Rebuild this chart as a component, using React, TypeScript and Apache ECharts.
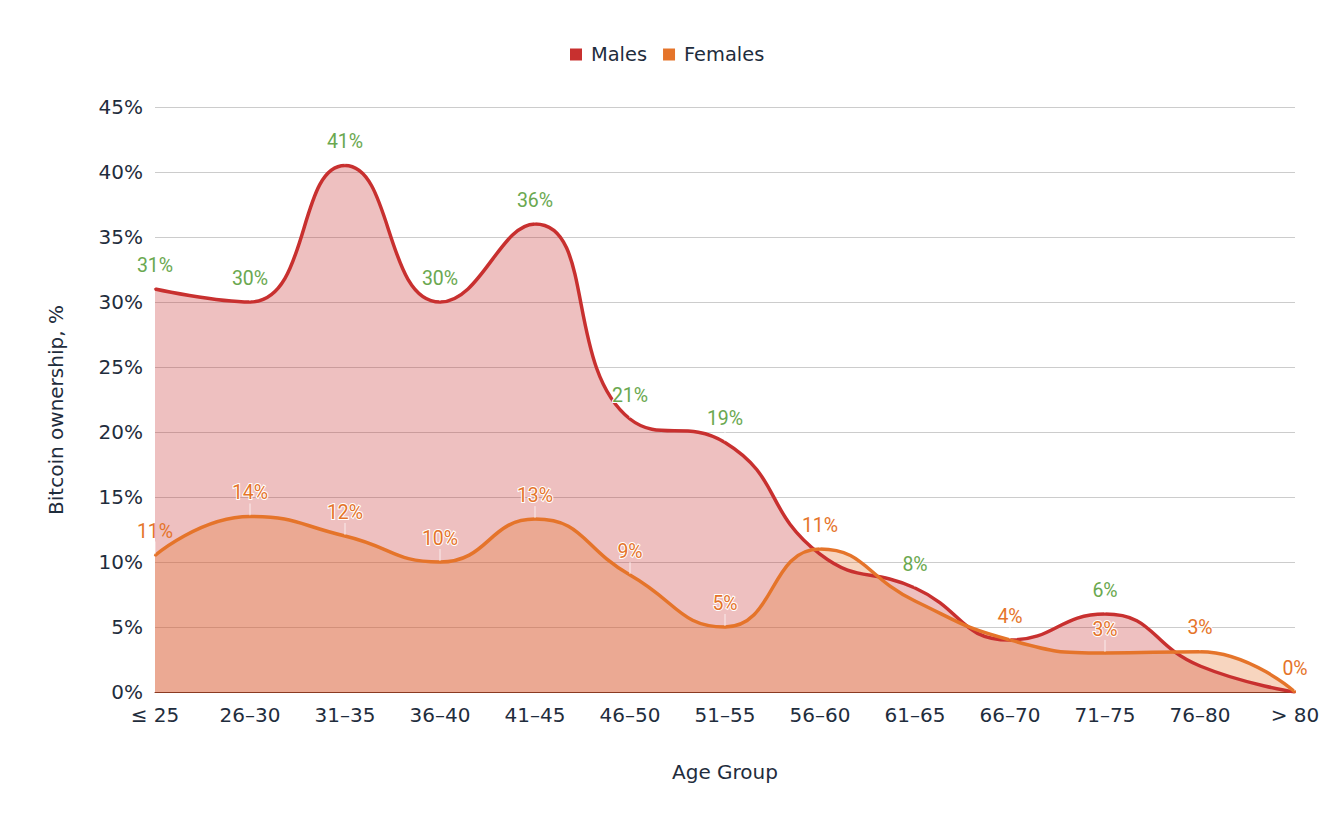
import React, { useEffect, useRef } from "react";
import * as echarts from "echarts";

const categories = ["≤ 25", "26–30", "31–35", "36–40", "41–45", "46–50", "51–55", "56–60", "61–65", "66–70", "71–75", "76–80", "> 80"];
const males = [31, 30, 40.5, 30, 36, 21, 19.2, 10.6, 8, 4, 6, 2, 0];
const females = [10.5, 13.5, 12, 10, 13.3, 9, 5, 11, 7, 4, 3, 3.1, 0];
const hiddenMaleLabels = ["56–60", "66–70", "76–80", "> 80"];
const hiddenFemaleLabels = ["61–65"];
const yTicks = [0, 5, 10, 15, 20, 25, 30, 35, 40, 45];

const TEXT = "#1f2d3d";
const AXIS_FONT = "'DejaVu Sans', Verdana, sans-serif";
const LABEL_FONT = "Roboto, 'Noto Sans', sans-serif";
const RED = "#c8302f";
const ORANGE = "#e5742a";
const GREEN = "#6aa84f";

export default function App() {
  const ref = useRef<HTMLDivElement>(null);
  useEffect(() => {
    if (!ref.current) return;
    const chart = echarts.init(ref.current, undefined, { renderer: "svg" });
    const fmt = (p: any) => Math.round(p.value) + "%";
    const labelCommon = {
      show: true,
      position: "top",
      distance: 4,
      fontFamily: LABEL_FONT,
      fontSize: 19.5,
      textBorderColor: "#fff",
      textBorderWidth: 2,
      formatter: fmt,
    };
    chart.setOption({
      animation: false,
      backgroundColor: "#fff",
      legend: {
        top: 40,
        left: 565,
        icon: "rect",
        itemWidth: 12,
        itemHeight: 12,
        itemGap: 16,
        textStyle: { fontSize: 19.4, color: TEXT, fontFamily: AXIS_FONT, padding: [0, 0, 0, 4] },
        data: ["Males", "Females"],
      },
      grid: { left: 155, right: 41, top: 107, bottom: 134 },
      graphic: [
        {
          type: "text",
          x: 56,
          y: 410,
          rotation: Math.PI / 2,
          style: {
            text: "Bitcoin ownership, %",
            fontSize: 20,
            fontFamily: AXIS_FONT,
            fill: TEXT,
            align: "center",
            verticalAlign: "middle",
          },
        },
      ],
      xAxis: {
        type: "category",
        data: categories,
        boundaryGap: false,
        name: "Age Group",
        nameLocation: "middle",
        nameGap: 70,
        nameTextStyle: { fontSize: 20, color: TEXT, fontFamily: AXIS_FONT },
        axisLine: { show: true, lineStyle: { color: "#8a3a22", width: 1 } },
        axisTick: { show: false },
        axisLabel: { fontSize: 20, color: TEXT, fontFamily: AXIS_FONT, margin: 13 },
        splitLine: { show: false },
      },
      yAxis: {
        type: "value",
        min: yTicks[0],
        max: yTicks[yTicks.length - 1],
        interval: 5,
        axisLine: { show: false },
        axisTick: { show: false },
        axisLabel: { fontSize: 20, color: TEXT, fontFamily: AXIS_FONT, margin: 12, formatter: "{value}%" },
        splitLine: { lineStyle: { color: "#cccccc", width: 1 } },
      },
      series: [
        {
          name: "Males",
          type: "line",
          smooth: 0.5,
          symbol: "circle",
          symbolSize: 2,
          showSymbol: true,
          color: RED,
          itemStyle: { color: RED },
          lineStyle: { color: RED, width: 3.5 },
          areaStyle: { color: RED, opacity: 0.3 },
          data: males.map((v, i) => ({
            value: v,
            label: { show: !hiddenMaleLabels.includes(categories[i]) },
          })),
          label: { ...labelCommon, color: GREEN },
          labelLayout: { dy: -9 },
          labelLine: { show: true, lineStyle: { color: "rgba(255,255,255,0.7)", width: 1 } },
        },
        {
          name: "Females",
          type: "line",
          smooth: 0.5,
          symbol: "circle",
          symbolSize: 2,
          showSymbol: true,
          color: ORANGE,
          itemStyle: { color: ORANGE },
          lineStyle: { color: ORANGE, width: 3.5 },
          areaStyle: { color: ORANGE, opacity: 0.3 },
          data: females.map((v, i) => ({
            value: v,
            label: {
              show: !hiddenFemaleLabels.includes(categories[i]),
              textBorderWidth: i === 0 ? 0 : 2,
            },
          })),
          label: { ...labelCommon, color: ORANGE },
          labelLayout: { dy: -9 },
          labelLine: { show: true, lineStyle: { color: "rgba(255,255,255,0.7)", width: 1 } },
        },
      ],
    });
    return () => chart.dispose();
  }, []);
  return <div ref={ref} style={{ position: "fixed", left: 0, top: 0, width: 1336, height: 826 }} />;
}
